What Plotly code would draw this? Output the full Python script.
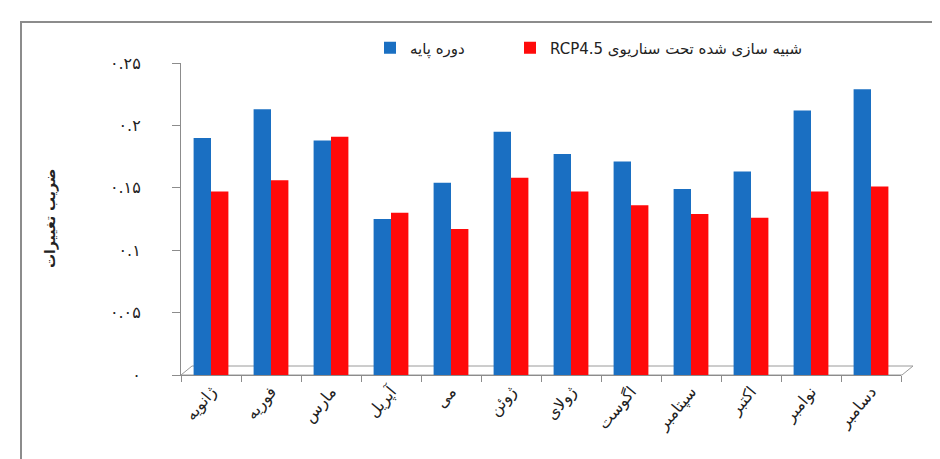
import plotly.graph_objects as go

months = ["ژانویه", "فوریه", "مارس", "آپریل", "می", "ژوئن",
          "ژولای", "اگوست", "سپتامبر", "اکتبر", "نوامبر", "دسامبر"]
base_period = [0.190, 0.213, 0.188, 0.125, 0.154, 0.195,
               0.177, 0.171, 0.149, 0.163, 0.212, 0.229]
rcp45 = [0.147, 0.156, 0.191, 0.130, 0.117, 0.158,
         0.147, 0.136, 0.129, 0.126, 0.147, 0.151]
series_names = ["دوره پایه", "\u202bشبیه سازی شده تحت سناریوی RCP4.5\u202c"]
y_tickvals = [0, 0.05, 0.1, 0.15, 0.2, 0.25]
y_ticktext = ["۰", "۰.۰۵", "۰.۱", "۰.۱۵", "۰.۲", "۰.۲۵"]
y_title = "ضریب تغییرات"

W, H = 940, 459
L, R, T, B = 173, 47, 55, 92

fig = go.Figure()
fig.add_trace(go.Bar(x=months, y=base_period, name=series_names[0], legend="legend",
                     marker=dict(color="#1a6fc2", line=dict(width=0))))
fig.add_trace(go.Bar(x=months, y=rcp45, name=series_names[1], legend="legend2",
                     marker=dict(color="#ff0a0a", line=dict(width=0))))

pw, ph = W - L - R, H - T - B
def pp(x, y):
    return (x - L) / pw, (H - B - y) / ph

# outer frame
fx0, fy0 = pp(13, 14)
fx1, fy1 = pp(990, 500)
fig.add_shape(type="rect", xref="paper", yref="paper", x0=fx0, y0=fy1, x1=fx1, y1=fy0,
              line=dict(color="#8c8c8c", width=2), fillcolor="rgba(0,0,0,0)", layer="below")

# 3D floor outline
pts = [pp(173, 367), pp(184, 358), pp(905, 358), pp(894, 367)]
path = "M " + " L ".join(f"{a},{b}" for a, b in pts) + " Z"
fig.add_shape(type="path", xref="paper", yref="paper", path=path,
              line=dict(color="#9a9a9a", width=1), layer="below")

leg_common = dict(orientation="h", xanchor="left", yanchor="middle",
                  font=dict(size=15, color="#222"), bgcolor="rgba(0,0,0,0)")

fig.update_layout(
    width=W, height=H,
    margin=dict(l=L, r=R, t=T, b=B),
    paper_bgcolor="white", plot_bgcolor="white",
    barmode="group", bargap=0.42, bargroupgap=0.0,
    font=dict(family="DejaVu Sans", size=13, color="#222"),
    showlegend=True,
    legend=dict(x=(362 - L) / pw, y=(H - B - 40) / ph, **leg_common),
    legend2=dict(x=(502 - L) / pw, y=(H - B - 40) / ph, **leg_common),
    xaxis=dict(showline=True, linecolor="#8c8c8c", linewidth=1,
               ticks="outside", tickson="boundaries", ticklen=6, tickcolor="#8c8c8c",
               tickangle=-50, tickfont=dict(size=16, color="#222"), showgrid=False),
    yaxis=dict(range=[0, 0.25], tickvals=y_tickvals, ticktext=y_ticktext,
               showline=True, linecolor="#8c8c8c", linewidth=1,
               ticks="outside", ticklen=8, tickcolor="#8c8c8c",
               ticklabelstandoff=28, showgrid=False, zeroline=False,
               tickfont=dict(size=16, color="#222")),
)

fig.add_annotation(xref="paper", yref="paper", x=(42 - L) / pw, y=(H - B - 211) / ph,
                   text="<b>" + y_title + "</b>", textangle=-90, showarrow=False,
                   font=dict(size=14, color="#222"), xanchor="center", yanchor="middle")

fig.write_html("out.html")
